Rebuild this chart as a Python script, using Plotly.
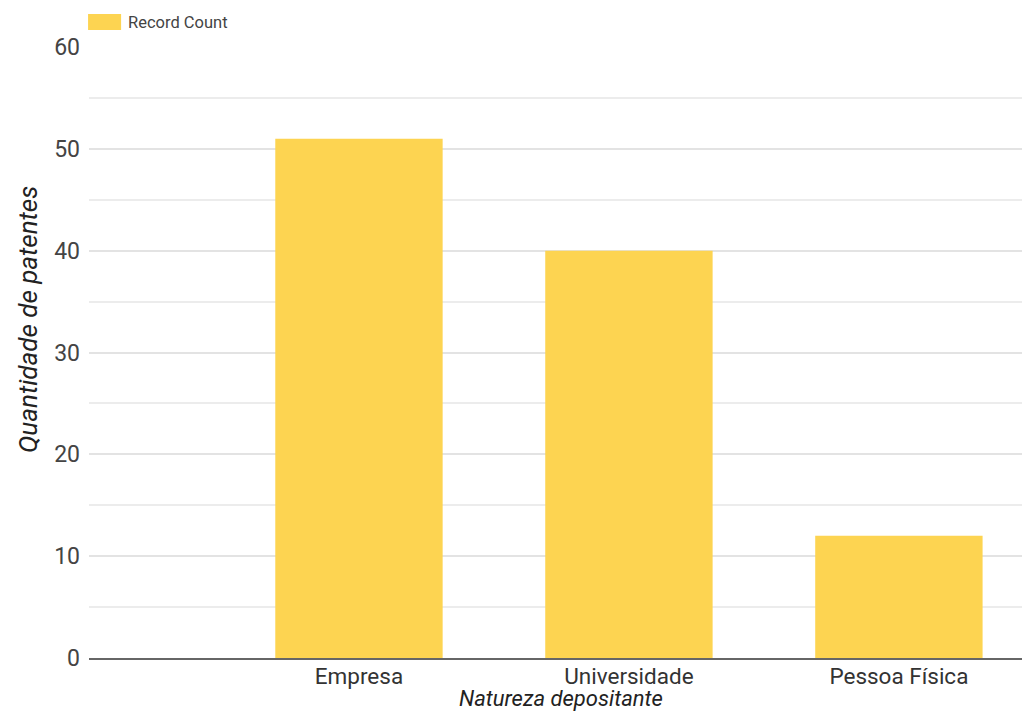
import plotly.graph_objects as go

categories = ["Empresa", "Universidade", "Pessoa Física"]
record_count = [51, 40, 12]
series_name = "Record Count"
y_ticks = [0, 10, 20, 30, 40, 50, 60]

BAR = "#FDD451"
FONT = "Roboto, Arial, sans-serif"

fig = go.Figure()
fig.add_trace(go.Bar(
    x=categories, y=record_count, name=series_name,
    marker=dict(color=BAR, line=dict(width=0)),
    width=0.62, showlegend=False,
))

fig.update_layout(
    width=1022, height=713,
    margin=dict(l=89, r=0, t=47, b=55),
    paper_bgcolor="white", plot_bgcolor="white",
    font=dict(family=FONT, size=23, color="#444"),
    xaxis=dict(
        type="category", categoryarray=categories, range=[-1, 2.456],
        showgrid=False, showline=True, linecolor="#666", linewidth=1.5,
        tickfont=dict(size=22.5, color="#333"), ticks="", ticklabelstandoff=-3,
        zeroline=False,
    ),
    yaxis=dict(
        range=[0, 60], tickvals=y_ticks, showgrid=True, gridcolor="#e3e3e3",
        gridwidth=1.5, zeroline=False, showline=False,
        tickfont=dict(size=23, color="#444"), ticklabelstandoff=8,
        minor=dict(dtick=5, showgrid=True, gridcolor="#ececec", gridwidth=1.5),
    ),
    shapes=[dict(type="rect", xref="paper", yref="paper",
                 x0=-0.001, x1=0.0344, y0=(658 - 30) / 611, y1=(658 - 14) / 611,
                 fillcolor=BAR, line=dict(width=0))],
    annotations=[
        dict(text=series_name, xref="paper", yref="paper", x=(126 - 89) / 933,
             y=(658 - 22) / 611, xanchor="left", yanchor="middle", showarrow=False,
             font=dict(size=16.5, color="#444", family=FONT)),
        dict(text="<i>Quantidade de patentes</i>", xref="paper", yref="paper",
             x=-(89 - 28) / 933, y=(658 - 320) / 611, textangle=-90,
             xanchor="center", yanchor="middle", showarrow=False,
             font=dict(size=26, color="#222", family=FONT)),
        dict(text="<i>Natureza depositante</i>", xref="x", yref="paper",
             x=0.75, y=-(713 - 658) / 611, xanchor="center", yanchor="bottom",
             showarrow=False, font=dict(size=22, color="#222", family=FONT)),
    ],
)

fig.write_html("out.html")
